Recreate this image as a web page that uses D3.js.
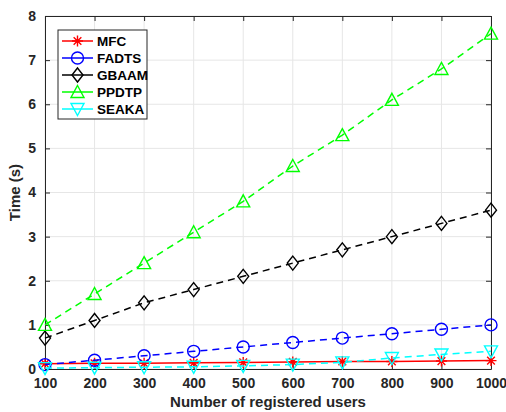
<!DOCTYPE html>
<html>
<head>
<meta charset="utf-8">
<script src="https://cdn.jsdelivr.net/npm/d3@7"></script>
<style>
  body { margin: 0; background: #fff; }
  text { font-family: "Liberation Sans", Arial, sans-serif; font-weight: bold; }
</style>
</head>
<body>
<div id="chart"></div>
<script>
// Data
const users = [100, 200, 300, 400, 500, 600, 700, 800, 900, 1000];
const mfc   = [0.12, 0.13, 0.13, 0.14, 0.15, 0.16, 0.17, 0.17, 0.18, 0.19];
const fadts = [0.1, 0.2, 0.3, 0.4, 0.5, 0.6, 0.7, 0.8, 0.9, 1.0];
const gbaam = [0.7, 1.1, 1.5, 1.8, 2.1, 2.4, 2.7, 3.0, 3.3, 3.6];
const ppdtp = [1.0, 1.7, 2.4, 3.1, 3.8, 4.6, 5.3, 6.1, 6.8, 7.6];
const seaka = [0.02, 0.03, 0.04, 0.05, 0.07, 0.1, 0.15, 0.25, 0.33, 0.4];
const yTicks = [0, 1, 2, 3, 4, 5, 6, 7, 8];

const series = [
  { name: "MFC",   values: mfc,   color: "#ff0000", dash: null,  marker: "star" },
  { name: "FADTS", values: fadts, color: "#0000ff", dash: "7,5", marker: "circle" },
  { name: "GBAAM", values: gbaam, color: "#000000", dash: "7,5", marker: "diamond" },
  { name: "PPDTP", values: ppdtp, color: "#00ff00", dash: "7,5", marker: "up" },
  { name: "SEAKA", values: seaka, color: "#00ffff", dash: "7,5", marker: "down" }
];

const W = 506, H = 412;
const margin = { top: 16, right: 15, bottom: 43, left: 45 };
const width = W - margin.left - margin.right;
const height = H - margin.top - margin.bottom;

const svg = d3.select("#chart").append("svg")
  .attr("width", W).attr("height", H);
const g = svg.append("g").attr("transform", `translate(${margin.left},${margin.top})`);

const x = d3.scaleLinear().domain([100, 1000]).range([0, width]);
const y = d3.scaleLinear().domain([0, 8]).range([height, 0]);

// grid
g.append("g").selectAll("line").data(users).enter().append("line")
  .attr("x1", d => x(d)).attr("x2", d => x(d)).attr("y1", 0).attr("y2", height)
  .attr("stroke", "#e6e6e6").attr("stroke-width", 1);
g.append("g").selectAll("line").data(yTicks).enter().append("line")
  .attr("x1", 0).attr("x2", width).attr("y1", d => y(d)).attr("y2", d => y(d))
  .attr("stroke", "#e6e6e6").attr("stroke-width", 1);

// axes (ticks inside, box)
g.append("g").attr("transform", `translate(0,${height})`)
  .call(d3.axisBottom(x).tickValues(users).tickFormat(d3.format("d"))
    .tickSizeInner(-5).tickSizeOuter(0).tickPadding(9));
g.append("g")
  .call(d3.axisLeft(y).tickValues(yTicks).tickSizeInner(-5).tickSizeOuter(0).tickPadding(9));
g.append("g")
  .call(d3.axisTop(x).tickValues(users).tickSizeInner(-5).tickSizeOuter(0).tickFormat(""));
g.append("g").attr("transform", `translate(${width},0)`)
  .call(d3.axisRight(y).tickValues(yTicks).tickSizeInner(-5).tickSizeOuter(0).tickFormat(""));
g.selectAll(".domain").attr("stroke", "#262626");
g.selectAll(".tick line").attr("stroke", "#262626");
g.selectAll(".tick text").attr("font-size", "14px").attr("fill", "#262626")
  .attr("font-family", "Liberation Sans, Arial").attr("font-weight", "bold");

// markers
function drawMarker(sel, type, color) {
  const s = 5.5;
  if (type === "star") {
    const p = sel.append("path")
      .attr("d", `M${-s},0L${s},0M0,${-s}L0,${s}M${-s*0.7},${-s*0.7}L${s*0.7},${s*0.7}M${-s*0.7},${s*0.7}L${s*0.7},${-s*0.7}`);
    p.attr("stroke", color).attr("fill", "none").attr("stroke-width", 1.4);
  } else if (type === "circle") {
    sel.append("circle").attr("r", s + 0.5).attr("fill", "none").attr("stroke", color).attr("stroke-width", 1.4);
  } else if (type === "diamond") {
    sel.append("path").attr("d", `M0,${-s-1.5}L${s},0L0,${s+1.5}L${-s},0Z`)
      .attr("fill", "none").attr("stroke", color).attr("stroke-width", 1.4);
  } else if (type === "up") {
    sel.append("path").attr("d", `M0,${-s-1}L${s+1},${s}L${-s-1},${s}Z`)
      .attr("fill", "none").attr("stroke", color).attr("stroke-width", 1.4);
  } else if (type === "down") {
    sel.append("path").attr("d", `M0,${s+1}L${s+1},${-s}L${-s-1},${-s}Z`)
      .attr("fill", "none").attr("stroke", color).attr("stroke-width", 1.4);
  }
}

const line = d3.line().x((d, i) => x(users[i])).y(d => y(d));

series.forEach(s => {
  g.append("path").datum(s.values)
    .attr("d", line)
    .attr("fill", "none")
    .attr("stroke", s.color)
    .attr("stroke-width", 1.5)
    .attr("stroke-dasharray", s.dash);
  s.values.forEach((v, i) => {
    const m = g.append("g").attr("transform", `translate(${x(users[i])},${y(v)})`);
    drawMarker(m, s.marker, s.color);
  });
});

// axis labels
svg.append("text")
  .attr("x", margin.left + width / 2).attr("y", 407)
  .attr("text-anchor", "middle").attr("font-size", "15px").attr("fill", "#262626")
  .text("Number of registered users");
svg.append("text")
  .attr("transform", `translate(20,${margin.top + height / 2}) rotate(-90)`)
  .attr("text-anchor", "middle").attr("font-size", "15px").attr("fill", "#262626")
  .text("Time (s)");

// legend
const leg = svg.append("g");
leg.append("rect").attr("x", 58).attr("y", 30).attr("width", 89).attr("height", 89)
  .attr("fill", "#fff").attr("stroke", "#262626").attr("stroke-width", 1);
series.forEach((s, i) => {
  const ly = 41 + i * 17;
  leg.append("line").attr("x1", 62).attr("x2", 93).attr("y1", ly).attr("y2", ly)
    .attr("stroke", s.color).attr("stroke-width", 1.5);
  const m = leg.append("g").attr("transform", `translate(77.5,${ly})`);
  drawMarker(m, s.marker, s.color);
  leg.append("text").attr("x", 97).attr("y", ly + 5)
    .attr("font-size", "13.5px").attr("fill", "#000").text(s.name);
});
</script>
</body>
</html>
